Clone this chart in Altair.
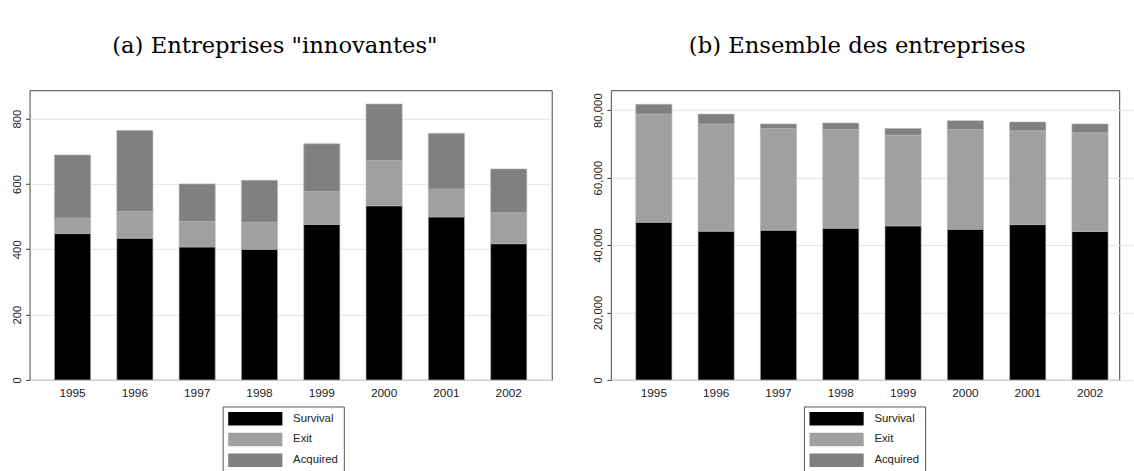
import altair as alt
import pandas as pd

years = ["1995", "1996", "1997", "1998", "1999", "2000", "2001", "2002"]
series = ["Survival", "Exit", "Acquired"]
colors = ["#000000", "#a0a0a0", "#808080"]

# Panel (a): innovative firms
innov_survival = [448, 434, 407, 400, 476, 533, 499, 417]
innov_exit = [48, 82, 78, 83, 101, 139, 85, 95]
innov_acquired = [193, 248, 115, 128, 146, 173, 171, 134]

# Panel (b): all firms
all_survival = [46740, 44110, 44400, 44990, 45670, 44700, 46060, 44010]
all_exit = [32080, 31790, 30140, 29260, 26930, 29550, 27810, 29270]
all_acquired = [2920, 2920, 1360, 1940, 1940, 2620, 2610, 2620]

title_a = '(a) Entreprises "innovantes"'
title_b = "(b) Ensemble des entreprises"
ticks_a = [0, 200, 400, 600, 800]
ticks_b = [0, 20000, 40000, 60000, 80000]

NBSP = "\u00a0" * 15


def long_table(surv, ex, acq):
    rows = []
    for i, y in enumerate(years):
        for k, (s, vals) in enumerate(zip(series, [surv, ex, acq])):
            rows.append({"year": y, "series": s, "value": vals[i], "order": k})
    return pd.DataFrame(rows)


def panel(df, title, ymax, ticks, fmt, view_width, title_dx):
    return (
        alt.Chart(df)
        .mark_bar(stroke="#b4b4b4", strokeWidth=0.6)
        .encode(
            x=alt.X(
                "year:N",
                sort=years,
                scale=alt.Scale(paddingInner=0.42, paddingOuter=0.4, range=[0, 530]),
                axis=alt.Axis(
                    title=None,
                    labelAngle=0,
                    ticks=False,
                    domain=False,
                    grid=False,
                    labelFont="Liberation Sans",
                    labelFontSize=12,
                    labelColor="#222222",
                    labelPadding=8,
                ),
            ),
            y=alt.Y(
                "value:Q",
                stack="zero",
                scale=alt.Scale(domain=[0, ymax], nice=False, zero=True),
                axis=alt.Axis(
                    title=None,
                    values=ticks,
                    format=fmt,
                    labelAngle=270,
                    labelAlign="center",
                    labelBaseline="alphabetic",
                    labelFont="Liberation Sans",
                    labelFontSize=11.5,
                    labelColor="#222222",
                    labelPadding=5,
                    tickSize=4,
                    tickColor="#333333",
                    domain=False,
                    grid=True,
                    gridColor="#e2e2e2",
                    gridWidth=1,
                ),
            ),
            color=alt.Color(
                "series:N",
                sort=series,
                scale=alt.Scale(domain=series, range=colors),
                legend=alt.Legend(
                    title=None,
                    orient="none",
                    legendX=196,
                    legendY=321,
                    direction="vertical",
                    symbolType="M-1,-1H7V1H-1Z",
                    symbolSize=189,
                    symbolStrokeWidth=0,
                    labelOffset=52,
                    rowPadding=7,
                    labelFont="Liberation Sans",
                    labelFontSize=11.5,
                    labelColor="#222222",
                    labelExpr="datum.label + '" + NBSP + "'",
                    padding=5.5,
                    strokeColor="#555555",
                    fillColor="#ffffff",
                ),
            ),
            order=alt.Order("order:Q"),
        )
        .properties(
            width=view_width,
            height=294,
            title=alt.TitleParams(
                text=title,
                font="DejaVu Serif",
                fontSize=23,
                fontWeight="normal",
                color="#000000",
                anchor="middle",
                dx=title_dx,
                offset=33,
            ),
        )
    )


left = panel(long_table(innov_survival, innov_exit, innov_acquired), title_a, 887, ticks_a, "d", 530, -16)
right = panel(long_table(all_survival, all_exit, all_acquired), title_b, 85900, ticks_b, ",.0f", 516, -8)

chart = (
    alt.hconcat(left, right, spacing=40)
    .resolve_legend(color="independent")
    .configure_view(stroke="#444444", strokeWidth=1)
    .properties(padding={"left": 11, "top": 31, "right": 0, "bottom": 0}, background="white")
)

chart.save("out.html", embed_options={"renderer": "svg", "actions": False})
